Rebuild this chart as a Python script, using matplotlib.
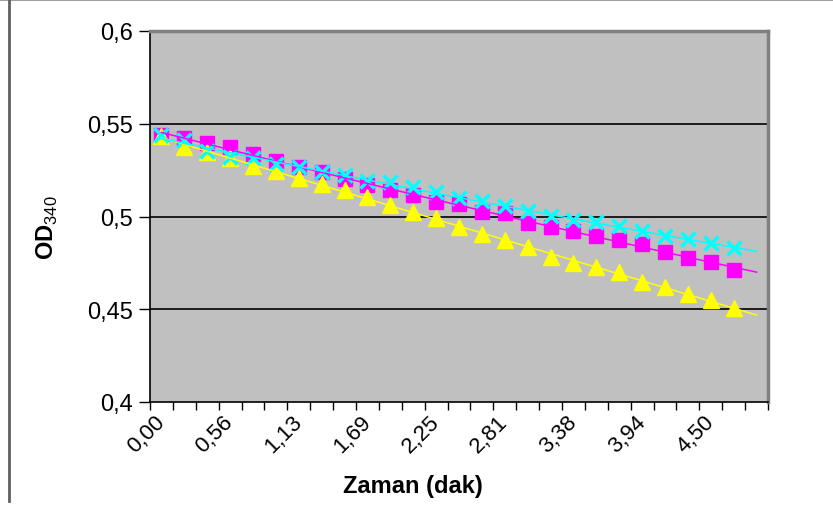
import numpy as np
import matplotlib
matplotlib.use("Agg")
import matplotlib.pyplot as plt
from matplotlib.lines import Line2D

plt.rcParams['font.family'] = ['Liberation Sans', 'DejaVu Sans']
plt.rcParams['mathtext.fontset'] = 'custom'
plt.rcParams['mathtext.rm'] = 'Liberation Sans'
plt.rcParams['mathtext.bf'] = 'Liberation Sans:bold'

# time categories (min), step 0.1875; one extra empty category at the end
time_min = [i * 0.1875 for i in range(27)]
tick_labels = ["0,00", "0,56", "1,13", "1,69", "2,25", "2,81", "3,38", "3,94", "4,50"]

od_square = [0.5439, 0.5425, 0.5396, 0.5373, 0.5337, 0.5301, 0.5265, 0.5242, 0.5200,
             0.5170, 0.5145, 0.5116, 0.5077, 0.5067, 0.5026, 0.5017, 0.4963, 0.4942,
             0.4920, 0.4893, 0.4873, 0.4852, 0.4810, 0.4776, 0.4755, 0.4713]
od_triangle = [0.5432, 0.5373, 0.5346, 0.5314, 0.5274, 0.5247, 0.5206, 0.5175, 0.5141,
               0.5104, 0.5062, 0.5026, 0.4990, 0.4945, 0.4906, 0.4875, 0.4833, 0.4780,
               0.4749, 0.4726, 0.4699, 0.4649, 0.4622, 0.4582, 0.4550, 0.4505]
od_cross = [0.5439, 0.5412, 0.5355, 0.5322, 0.5314, 0.5283, 0.5268, 0.5242, 0.5224,
            0.5193, 0.5184, 0.5161, 0.5130, 0.5098, 0.5082, 0.5058, 0.5031, 0.5004,
            0.4981, 0.4969, 0.4947, 0.4920, 0.4893, 0.4879, 0.4857, 0.4829]

fig = plt.figure(figsize=(8.33, 5.06), dpi=100)
ax = fig.add_axes([150 / 833, 1 - 403 / 506, 618 / 833, 371 / 506])
ax.set_facecolor('#C0C0C0')

x = np.arange(len(od_square))
x_trend = np.linspace(0, len(od_square), 100)  # trendline, forecast one period

series = [
    (od_square, '#FF00FF', 's', dict(ms=10.5, mec='#FF00FF')),
    (od_triangle, '#FFFF00', '^', dict(ms=11.5, mec='#FFFF00')),
    (od_cross, '#00FFFF', 'x', dict(ms=10, mew=2.5)),
]
for vals, col, mk, kw in series:
    ax.plot(x, vals, linestyle='none', marker=mk, color=col, zorder=3, **kw)
for vals, col, mk, kw in series:
    coef = np.polyfit(x, vals, 2)
    ax.plot(x_trend, np.polyval(coef, x_trend), color=col, lw=1.1, zorder=4)

ax.set_xlim(-0.5, len(time_min) - 0.5)
ax.set_ylim(0.4, 0.6)
ax.set_yticks([0.4, 0.45, 0.5, 0.55, 0.6])
ax.set_yticklabels(["0,4", "0,45", "0,5", "0,55", "0,6"], fontsize=17)
for yv in [0.45, 0.5, 0.55]:
    ax.axhline(yv, color='black', lw=1.2, zorder=1)

# category boundaries get tick marks, labels sit on every third category
ax.set_xticks(np.arange(-0.5, len(time_min), 1.0))
ax.set_xticklabels([])
ax.set_xticks(np.arange(0, 25, 3), minor=True)
ax.set_xticklabels(tick_labels, minor=True, rotation=45, ha='right', va='center',
                   rotation_mode='anchor', fontsize=16)
ax.tick_params(axis='x', which='minor', length=0, pad=12)
ax.tick_params(axis='x', which='major', length=6, width=1, direction='out')
ax.tick_params(axis='y', length=8, width=1, direction='out', pad=4)

for side in ['top', 'right']:
    ax.spines[side].set_color('#808080')
    ax.spines[side].set_linewidth(2.5)
for side in ['left', 'bottom']:
    ax.spines[side].set_color('black')
    ax.spines[side].set_linewidth(1.2)

fig.text(47 / 833, 1 - 228 / 506, r'$\mathbf{OD}_{\mathrm{340}}$', rotation=90,
         fontsize=17, ha='center', va='center')
fig.text(413 / 833, 1 - 487 / 506, "Zaman (dak)", fontsize=17, fontweight='bold',
         ha='center', va='center')

# chart area frame (top and left edges visible)
fig.add_artist(Line2D([0, 1], [0.999, 0.999], transform=fig.transFigure, color='#A0A0A0', lw=1.5))
fig.add_artist(Line2D([9 / 833, 9 / 833], [0.999, 4 / 506], transform=fig.transFigure,
                      color='#606060', lw=2))

fig.savefig("out.png", dpi=100)
